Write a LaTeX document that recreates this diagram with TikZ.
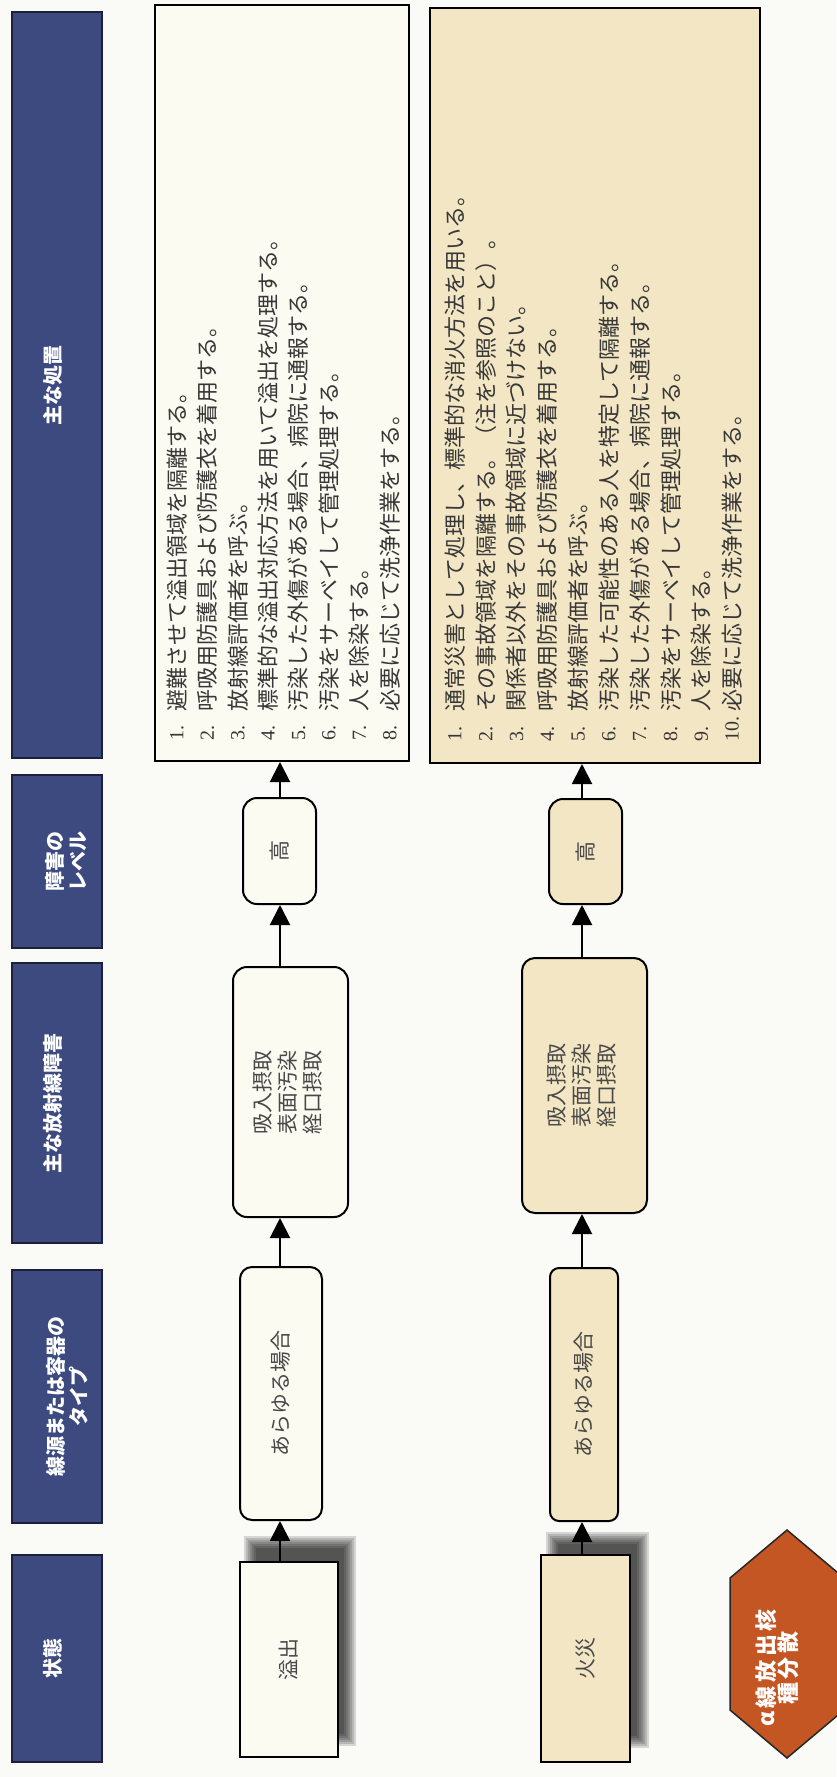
\documentclass[tikz,border=0pt]{standalone}
\usepackage{fontspec}
\usepackage{graphicx}
\setmainfont{Liberation Serif}
\newfontfamily\cjk{Noto Sans CJK JP}
\usetikzlibrary{arrows.meta}
\definecolor{bgcol}{RGB}{250,250,247}
\definecolor{navy}{RGB}{60,74,128}
\definecolor{hdrline}{RGB}{28,32,58}
\definecolor{rowonefill}{RGB}{252,251,242}
\definecolor{rowtwofill}{RGB}{243,230,196}
\definecolor{hexfill}{RGB}{196,86,36}
\definecolor{txtgrey}{RGB}{72,72,72}
\definecolor{txtdark}{RGB}{55,55,55}
\begin{document}
\begin{tikzpicture}[x=1pt,y=-1pt,
  hdrbox/.style={draw=hdrline, line width=1.2pt, fill=navy, minimum width=90pt, inner sep=0pt},
  hdrtxt/.style={text=white, font=\cjk\bfseries\fontsize{20}{23}\selectfont, align=center, rotate=90, inner sep=0pt},
  flowbox/.style={draw=black, line width=2pt, inner sep=0pt, text=txtgrey, font=\cjk\fontsize{21}{25}\selectfont},
  statebox/.style={draw=black, line width=1.3pt, inner sep=0pt, text=txtgrey, font=\cjk\fontsize{21}{25}\selectfont},
  listbox/.style={draw=black, line width=2pt, inner sep=0pt},
  listtxt/.style={rotate=90, anchor=west, inner sep=0pt, text=txtdark, font=\cjk\fontsize{22}{22}\selectfont},
  numtxt/.style={rotate=90, anchor=west, inner sep=0pt, text=txtdark, font=\fontsize{20}{20}\selectfont},
  arr/.style={draw=black, line width=2pt, -{Triangle[length=20pt,width=20pt]}},
  hexst/.style={draw=black!85, line width=1.5pt, fill=hexfill},
  hextxt/.style={text=white, font=\cjk\bfseries\fontsize{22}{22}\selectfont, align=center, rotate=90, inner sep=0pt}
]
\useasboundingbox (0,0) rectangle (836,1777);
\fill[bgcol] (0,0) rectangle (836,1777);

% header column
\node[hdrbox, minimum height=746pt] (h1) at (57,385) {};
\node[hdrbox, minimum height=173pt] (h2) at (57,861.5) {};
\node[hdrbox, minimum height=280pt] (h3) at (57,1103) {};
\node[hdrbox, minimum height=253pt] (h4) at (57,1396.5) {};
\node[hdrbox, minimum height=207pt] (h5) at (57,1658.5) {};
\node[hdrtxt] (ht1) at (53,385) {主な処置};
\node[hdrtxt] (ht2) at (66,861.5) {障害の\\レベル};
\node[hdrtxt] (ht3) at (53,1103) {主な放射線障害};
\node[hdrtxt] (ht4) at (67,1396.5) {線源または容器の\\タイプ};
\node[hdrtxt] (ht5) at (53,1658.5) {状態};

% shadows
\foreach \k in {0,...,6} {
  \fill[black, opacity=0.14] ({250-6+2*\k},{1542-6+2*\k}) rectangle ({350+6-2*\k},{1740+6-2*\k});
  \fill[black, opacity=0.14] ({552-6+2*\k},{1538-6+2*\k}) rectangle ({643+6-2*\k},{1742+6-2*\k});
}

% row 1
\coordinate (xa) at (280,0);
\node[statebox, fill=rowonefill, minimum width=98pt, minimum height=195pt] (s1) at (289,1659.5) {\rotatebox{90}{溢出}};
\node[flowbox, fill=rowonefill, rounded corners=12pt, minimum width=82pt, minimum height=253pt] (a1) at (281,1393.5) {\rotatebox{90}{あらゆる場合}};
\node[flowbox, fill=rowonefill, rounded corners=14pt, minimum width=115pt, minimum height=250pt] (b1) at (290.5,1092) {\rotatebox{90}{\begin{tabular}{@{}c@{}}吸入摂取\\表面汚染\\経口摂取\end{tabular}}};
\node[flowbox, fill=rowonefill, rounded corners=14pt, minimum width=73pt, minimum height=106pt] (c1) at (279.5,851) {\rotatebox{90}{高}};
\node[listbox, fill=rowonefill, minimum width=254pt, minimum height=756pt] (d1) at (282,383) {};
\draw[arr] (s1.north -| xa) -- (a1.south -| xa);
\draw[arr] (a1.north -| xa) -- (b1.south -| xa);
\draw[arr] (b1.north -| xa) -- (c1.south -| xa);
\draw[arr] (c1.north -| xa) -- (d1.south -| xa);
\foreach \t [count=\i] in {
  {避難させて溢出領域を隔離する。},
  {呼吸用防護具および防護衣を着用する。},
  {放射線評価者を呼ぶ。},
  {標準的な溢出対応方法を用いて溢出を処理する。},
  {汚染した外傷がある場合、病院に通報する。},
  {汚染をサーベイして管理処理する。},
  {人を除染する。},
  {必要に応じて洗浄作業をする。}} {
  \node[numtxt] (pn\i) at ({177+30.4*(\i-1)},741) {\i.};
  \node[listtxt] (pt\i) at ({177+30.4*(\i-1)},712) {\t};
}

% row 2
\coordinate (xb) at (582,0);
\node[statebox, fill=rowtwofill, minimum width=89pt, minimum height=207pt] (s2) at (585.5,1658.5) {\rotatebox{90}{火災}};
\node[flowbox, fill=rowtwofill, rounded corners=9pt, minimum width=68pt, minimum height=253pt] (a2) at (584,1394.5) {\rotatebox{90}{あらゆる場合}};
\node[flowbox, fill=rowtwofill, rounded corners=13pt, minimum width=125pt, minimum height=255pt] (b2) at (584.5,1085.5) {\rotatebox{90}{\begin{tabular}{@{}c@{}}吸入摂取\\表面汚染\\経口摂取\end{tabular}}};
\node[flowbox, fill=rowtwofill, rounded corners=14pt, minimum width=73pt, minimum height=105pt] (c2) at (585.5,851.5) {\rotatebox{90}{高}};
\node[listbox, fill=rowtwofill, minimum width=330pt, minimum height=755pt] (d2) at (595,385.5) {};
\draw[arr] (s2.north -| xb) -- (a2.south -| xb);
\draw[arr] (a2.north -| xb) -- (b2.south -| xb);
\draw[arr] (b2.north -| xb) -- (c2.south -| xb);
\draw[arr] (c2.north -| xb) -- (d2.south -| xb);
\foreach \t [count=\i] in {
  {通常災害として処理し、標準的な消火方法を用いる。},
  {その事故領域を隔離する。（注を参照のこと）。},
  {関係者以外をその事故領域に近づけない。},
  {呼吸用防護具および防護衣を着用する。},
  {放射線評価者を呼ぶ。},
  {汚染した可能性のある人を特定して隔離する。},
  {汚染した外傷がある場合、病院に通報する。},
  {汚染をサーベイして管理処理する。},
  {人を除染する。},
  {必要に応じて洗浄作業をする。}} {
  \node[numtxt] (qn\i) at ({455+30.8*(\i-1)},742) {\i.};
  \node[listtxt] (qt\i) at ({455+30.8*(\i-1)},712) {\t};
}

% hexagon
\draw[hexst] (787,1530) -- (844,1578) -- (844,1710) -- (787,1758) -- (730,1710) -- (730,1578) -- cycle;
\node[hextxt] (hx) at (777,1668) {α\,線\,放\,出\,核\\種\,分\,散};
\end{tikzpicture}
\end{document}
